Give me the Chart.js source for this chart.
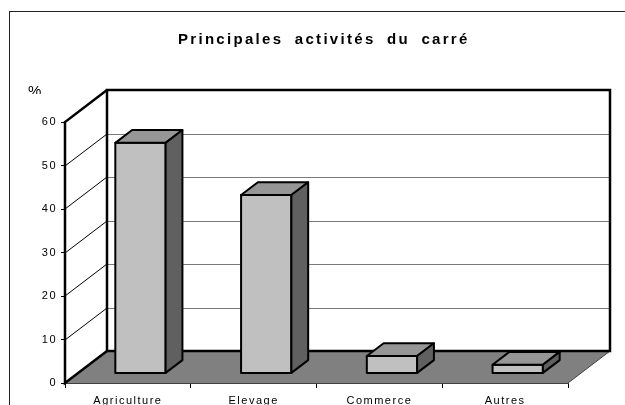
<!DOCTYPE html>
<html>
<head>
<meta charset="utf-8">
<script src="https://cdn.jsdelivr.net/npm/chart.js@4.4.1/dist/chart.umd.min.js"></script>
<style>
  html, body { margin: 0; padding: 0; background: #fff; }
  canvas { display: block; }
</style>
</head>
<body>
<canvas id="activites" width="625" height="405"></canvas>
<script>
const categories = ['Agriculture', 'Elevage', 'Commerce', 'Autres'];
const shares = [53, 41, 4, 2];
const yMax = 60;
const yStep = 10;

const chartTitle = 'Principales activités du carré';
const yUnit = '%';

// offset of the back wall, and where the bars sit in that depth
const depthX = 42, depthY = -32;
const barFront = 0.3, barDepth = 0.4;

const fontFamily = 'Arial, "Liberation Sans", sans-serif';

const box3d = {
  id: 'box3d',
  beforeDraw(chart) {
    chart.ctx.letterSpacing = '1.5px';
  },
  beforeDatasetsDraw(chart) {
    const {ctx, chartArea: a, scales: {y}} = chart;
    const bx = a.left + depthX, by = a.top + depthY;
    const br = a.right + depthX, bb = a.bottom + depthY;
    ctx.save();
    // floor
    ctx.fillStyle = '#808080';
    ctx.beginPath();
    ctx.moveTo(a.left, a.bottom);
    ctx.lineTo(bx, bb);
    ctx.lineTo(br, bb);
    ctx.lineTo(a.right, a.bottom);
    ctx.closePath();
    ctx.fill();
    ctx.strokeStyle = '#404040';
    ctx.lineWidth = 1;
    ctx.beginPath();
    ctx.moveTo(br, bb);
    ctx.lineTo(a.right, a.bottom);
    ctx.stroke();
    // back wall
    ctx.fillStyle = '#fff';
    ctx.fillRect(bx, by, br - bx, bb - by);
    for (let v = yStep; v < yMax; v += yStep) {
      const py = Math.round(y.getPixelForValue(v));
      ctx.strokeStyle = '#7a7a7a';
      ctx.beginPath();
      ctx.moveTo(bx, py + depthY + 0.5);
      ctx.lineTo(br, py + depthY + 0.5);
      ctx.stroke();
      ctx.strokeStyle = '#000';
      ctx.beginPath();
      ctx.moveTo(a.left, py);
      ctx.lineTo(bx, py + depthY);
      ctx.stroke();
    }
    // heavy edges of the walls
    ctx.strokeStyle = '#000';
    ctx.lineWidth = 2.5;
    ctx.strokeRect(bx, by, br - bx, bb - by);
    ctx.beginPath();
    ctx.moveTo(bx, by);
    ctx.lineTo(a.left, a.top);
    ctx.lineTo(a.left, a.bottom);
    ctx.lineTo(bx, bb);
    ctx.stroke();
    ctx.restore();
  },
  afterDatasetsDraw(chart) {
    const ctx = chart.ctx;
    const meta = chart.getDatasetMeta(0);
    const fx = depthX * barFront, fy = depthY * barFront;
    const dx = depthX * barDepth, dy = depthY * barDepth;
    const face = (pts, color) => {
      ctx.beginPath();
      pts.forEach(([px, py], i) => i ? ctx.lineTo(px, py) : ctx.moveTo(px, py));
      ctx.closePath();
      ctx.fillStyle = color;
      ctx.fill();
      ctx.stroke();
    };
    ctx.save();
    ctx.lineWidth = 2;
    ctx.strokeStyle = '#000';
    ctx.lineJoin = 'round';
    meta.data.forEach(bar => {
      const {x, y, base, width} = bar.getProps(['x', 'y', 'base', 'width'], true);
      const l = x - width / 2 + fx, r = x + width / 2 + fx;
      const t = y + fy, b = base + fy;
      face([[l, t], [r, t], [r, b], [l, b]], '#c0c0c0');
      face([[l, t], [l + dx, t + dy], [r + dx, t + dy], [r, t]], '#969696');
      face([[r, t], [r + dx, t + dy], [r + dx, b + dy], [r, b]], '#606060');
    });
    ctx.restore();
  },
  afterDraw(chart) {
    const ctx = chart.ctx;
    ctx.save();
    ctx.fillStyle = '#000';
    ctx.textBaseline = 'alphabetic';
    ctx.textAlign = 'left';
    ctx.font = 'bold 15px ' + fontFamily;
    ctx.letterSpacing = '2.3px';
    ctx.wordSpacing = '5px';
    ctx.fillText(chartTitle, 178, 44);
    // unit label, cut at the bottom like in the source
    ctx.beginPath();
    ctx.rect(0, 0, 100, 94);
    ctx.clip();
    ctx.font = '15px ' + fontFamily;
    ctx.letterSpacing = '0px';
    ctx.wordSpacing = '0px';
    ctx.fillText(yUnit, 28, 96);
    ctx.restore();
    // outer frame
    ctx.save();
    ctx.strokeStyle = '#222';
    ctx.lineWidth = 1;
    ctx.strokeRect(9.5, 11.5, 700, 500);
    ctx.restore();
  }
};

const canvas = document.getElementById('activites');

new Chart(canvas, {
  type: 'bar',
  data: {
    labels: categories,
    datasets: [{
      data: shares,
      backgroundColor: 'rgba(0,0,0,0)',
      borderWidth: 0,
      categoryPercentage: 1,
      barPercentage: 0.4
    }]
  },
  options: {
    responsive: false,
    animation: false,
    events: [],
    layout: {
      padding: {top: 122, right: 57, left: 0, bottom: 0}
    },
    plugins: {
      legend: {display: false},
      tooltip: {enabled: false},
      title: {display: false}
    },
    scales: {
      x: {
        afterFit(scale) { scale.height = 22; },
        grid: {
          display: true,
          drawOnChartArea: false,
          drawTicks: true,
          tickLength: 5,
          color: '#000',
          offset: true
        },
        border: {display: true, color: '#404040', width: 1},
        ticks: {
          color: '#000',
          padding: 6,
          font: {family: fontFamily, size: 11}
        }
      },
      y: {
        min: 0,
        max: yMax,
        afterFit(scale) { scale.width = 65; },
        grid: {
          display: true,
          drawOnChartArea: false,
          drawTicks: true,
          tickLength: 4,
          color: '#000'
        },
        border: {display: false},
        ticks: {
          stepSize: yStep,
          color: '#000',
          padding: 4,
          font: {family: fontFamily, size: 11}
        }
      }
    }
  },
  plugins: [box3d]
});
</script>
</body>
</html>
